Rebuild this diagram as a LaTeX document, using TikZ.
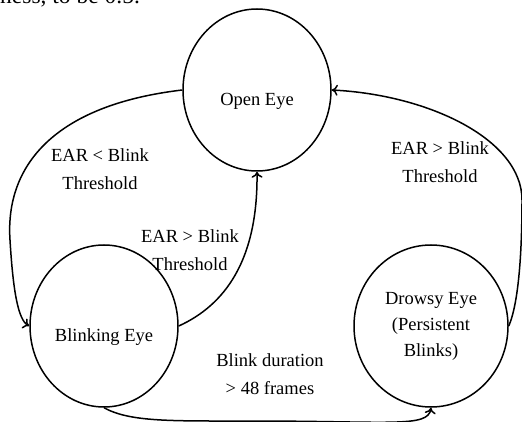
\documentclass[tikz,border=0pt]{standalone}
\usepackage{fontspec}
\setmainfont{Liberation Serif}
\usetikzlibrary{shapes.geometric,arrows.meta}

\begin{document}
\begin{tikzpicture}[x=1pt,y=-1pt,
    state/.style={ellipse,draw,line width=1.5pt,minimum width=148pt,minimum height=162pt,
      inner sep=0pt,align=center,font=\fontsize{18.5}{26}\selectfont},
    inside/.style={font=\fontsize{18.5}{26}\selectfont,yshift=-11pt},
    trans/.style={-{To[length=6pt,width=11pt]},line width=1.5pt},
    cond/.style={align=center,font=\fontsize{18.5}{28}\selectfont}]
    \useasboundingbox (0,0) rectangle (522,422);
    \clip (0,0) rectangle (522,422);

    % tail of the text line above the figure
    \node[anchor=base west,inner sep=0pt,font=\fontsize{23.5}{28}\selectfont] (cut) at (0,3.5) {ness, to be 0.5.};

    \node[state,label={[inside]center:Open Eye}] (open) at (257,90) {};
    \node[state,label={[inside]center:Blinking Eye}] (blink) at (104,326) {};
    \node[state,minimum width=154pt] (drowsy) at (431,326) {Drowsy Eye\\(Persistent\\Blinks)};

    \draw[trans] (open.west) .. controls (55,105) and (5,165) .. (10,240)
        .. controls (13,290) and (18,320) .. (blink.west);
    \node[cond] (c1) at (100,169) {EAR < Blink\\Threshold};

    \draw[trans] (blink.east) .. controls (225,305) and (258,260) .. (open.south);
    \node[cond] (c2) at (190,250) {EAR > Blink\\Threshold};

    \draw[trans] (blink.south) .. controls (130,422) and (170,421) .. (250,421)
        .. controls (390,421) and (428,428) .. (drowsy.south);
    \node[cond] (c3) at (270,374) {Blink duration\\> 48 frames};

    \draw[trans] (drowsy.east) .. controls (520,300) and (522,240) .. (522,200)
        .. controls (522,140) and (430,95) .. (open.east);
    \node[cond] (c4) at (440,162) {EAR > Blink\\Threshold};
\end{tikzpicture}
\end{document}
